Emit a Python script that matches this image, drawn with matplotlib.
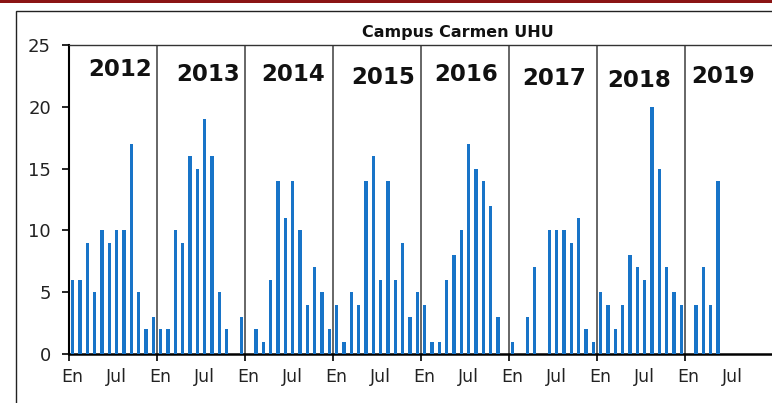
import numpy as np
import matplotlib.pyplot as plt
from matplotlib.patches import Rectangle

# -----------------------------
# Monthly counts, one list per year (Jan..Dec)
# -----------------------------
years = ["2012", "2013", "2014", "2015", "2016", "2017", "2018", "2019"]

y2012 = [6, 6, 9, 5, 10, 9, 10, 10, 17, 5, 2, 3]
y2013 = [2, 2, 10, 9, 16, 15, 19, 16, 5, 2, 0, 3]
y2014 = [0, 2, 1, 6, 14, 11, 14, 10, 4, 7, 5, 2]
y2015 = [4, 1, 5, 4, 14, 16, 6, 14, 6, 9, 3, 5]
y2016 = [4, 1, 1, 6, 8, 10, 17, 15, 14, 12, 3, 0]
y2017 = [1, 0, 3, 7, 0, 10, 10, 10, 9, 11, 2, 1]
y2018 = [5, 4, 2, 4, 8, 7, 6, 20, 15, 7, 5, 4]
y2019 = [0, 4, 7, 4, 14]

month_labels = ["En", "Jul"]

counts = y2012 + y2013 + y2014 + y2015 + y2016 + y2017 + y2018 + y2019

# where each year label sits (month index, y value)
year_label_x = [6.95, 19.0, 30.5, 42.8, 54.1, 66.1, 77.8, 89.25]
year_label_y = [23.05, 22.65, 22.65, 22.4, 22.6, 22.3, 22.15, 22.45]

# -----------------------------
# Figure and axes
# -----------------------------
fig = plt.figure(figsize=(7.72, 4.03), dpi=100)
ax = fig.add_axes([69 / 772, 1 - 354 / 403, 704 / 772, 309 / 403])

# red strip on top and outer chart frame
fig.patches.append(Rectangle((0, 1 - 3 / 403), 1, 3 / 403, transform=fig.transFigure,
                             facecolor="#8b1414", edgecolor="none", zorder=0))
fig.patches.append(Rectangle((16 / 772, -0.1), 1.2, 1.1 - 10.7 / 403, transform=fig.transFigure,
                             facecolor="none", edgecolor="#222222", linewidth=1.0, zorder=0))

months = np.arange(len(counts)) + 0.5
ax.bar(months, counts, width=0.42, color="#1874c8", zorder=3)

# year separators
n_years = len(years)
for k in range(1, n_years):
    ax.axvline(12 * k, color="#5a5a5a", linewidth=1.3, zorder=2)

# year names
for name, xl, yl in zip(years, year_label_x, year_label_y):
    ax.text(xl, yl, name, ha="center", va="center", fontsize=16.5,
            fontweight="bold", color="#111111", zorder=4)

ax.set_xlim(0, 12 * n_years)
ax.set_ylim(0, 25)

# -----------------------------
# Ticks and spines
# -----------------------------
ax.set_yticks(np.arange(0, 26, 5))
ax.tick_params(axis="y", length=5, width=1.2, pad=8, labelsize=13, labelcolor="#222222")

ax.set_xticks(np.arange(0, 12 * n_years + 1, 12))
ax.set_xticklabels([])
ax.tick_params(axis="x", which="major", length=5, width=1.2)

label_pos = []
label_txt = []
for k in range(n_years):
    label_pos += [12 * k + 0.4, 12 * k + 6.5]
    label_txt += month_labels
ax.set_xticks(label_pos, minor=True)
ax.set_xticklabels(label_txt, minor=True)
ax.tick_params(axis="x", which="minor", length=0, pad=10, labelsize=12.5, labelcolor="#222222")

ax.spines["left"].set_linewidth(1.5)
ax.spines["bottom"].set_linewidth(1.8)
ax.spines["top"].set_linewidth(1.0)
ax.spines["top"].set_color("#333333")
ax.spines["right"].set_visible(False)

fig.text(458 / 772, 1 - 32 / 403, "Campus Carmen UHU", ha="center", va="center",
         fontsize=11.5, fontweight="bold", color="#111111")

plt.savefig("out.png", dpi=100)
